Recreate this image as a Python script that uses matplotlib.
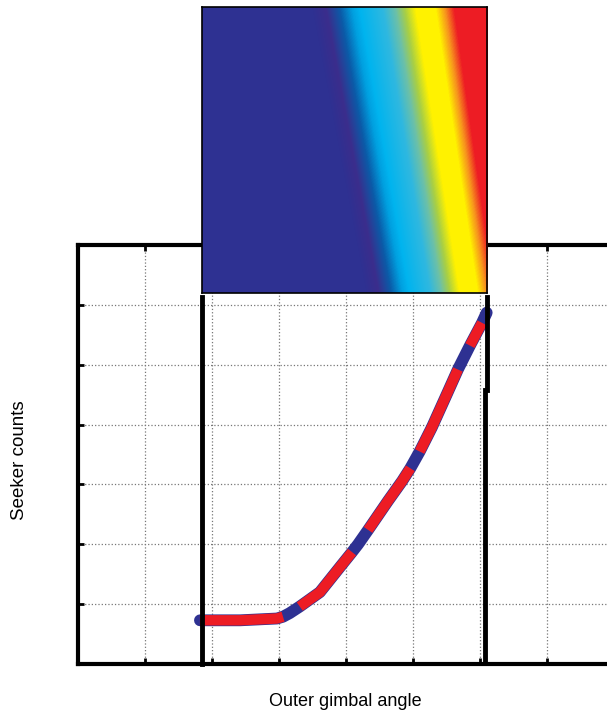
import numpy as np
import matplotlib
matplotlib.use("Agg")
import matplotlib.pyplot as plt
from matplotlib.colors import LinearSegmentedColormap

plt.rcParams['font.family'] = ['Liberation Sans', 'DejaVu Sans']

# curve (grid units)
angle = [1.82, 2.42, 2.97, 3.06, 3.16, 3.31, 3.61, 3.91, 4.09, 4.18, 4.33,
         4.63, 4.84, 4.96, 5.10, 5.28, 5.51, 5.67, 5.85, 6.03, 6.10]
counts = [0.73, 0.73, 0.76, 0.79, 0.85, 0.96, 1.20, 1.62, 1.87, 2.00, 2.24,
          2.73, 3.06, 3.27, 3.55, 3.95, 4.52, 4.92, 5.32, 5.70, 5.87]
# index ranges drawn in red over the blue trace
red_spans = [(0, 3), (5, 8), (10, 13), (14, 17), (18, 19)]

# limits of the scan window (vertical black lines)
win_left = 1.85
win_right_top = 6.10
win_right_bot = 6.07
win_top = 6.13
win_step = 4.57

# colour band edges of the inset map (pixel columns, top row / bottom row)
band_start = [0.0, 286.0]   # rows
band_lo = [103.0, 158.0]    # where the dark blue ends
band_hi = [258.0, 298.0]    # where full red is reached

cmap_stops = [0.0, 0.04, 0.13, 0.22, 0.30, 0.35, 0.50, 0.58, 0.64, 0.71, 0.84, 0.90, 0.96, 1.0]
cmap_cols = ['#2e3192', '#2e3192', '#3b2d8c', '#0b5ba8', '#00a0e0', '#00b4ef', '#2fb8e0',
             '#6cc0a8', '#a8cf45', '#fff200', '#fff200', '#f7941d', '#ed1c24', '#ed1c24']

fig = plt.figure(figsize=(6.07, 7.13), dpi=100)
ax = fig.add_axes([78/607, 49/713, 536/607, 419/713])
ax.set_xlim(0, 8)
ax.set_ylim(0, 7)
ax.set_xticks(range(0, 9))
ax.set_yticks(range(0, 8))
ax.set_xticklabels([])
ax.set_yticklabels([])
ax.tick_params(direction='in', length=4, width=2, top=True, right=True)
ax.grid(True, linestyle=':', color='#777777', linewidth=0.9)
for s in ax.spines.values():
    s.set_linewidth(3)

ax.plot(angle, counts, color='#2e3192', lw=8.5, solid_capstyle='round',
        solid_joinstyle='round', zorder=3)
for a, b in red_spans:
    ax.plot(angle[a:b + 1], counts[a:b + 1], color='#ed1c24', lw=7.5,
            solid_capstyle='butt', solid_joinstyle='round', zorder=4)

ax.plot([win_left, win_left], [0, win_top], color='black', lw=3.5, zorder=5, clip_on=False)
ax.plot([win_right_top, win_right_top], [win_top, win_step], color='black', lw=3.5, zorder=5)
ax.plot([win_right_bot, win_right_bot], [win_step, 0], color='black', lw=3.5, zorder=5)

# inset colour map
cmap = LinearSegmentedColormap.from_list('scan', list(zip(cmap_stops, cmap_cols)))
rows, cols = np.mgrid[0:286, 0:286]
lo = np.interp(rows, band_start, band_lo)
hi = np.interp(rows, band_start, band_hi)
field = np.clip((cols - lo) / (hi - lo), 0, 1)

ins = fig.add_axes([202/607, 420/713, 285/607, 286/713])
ins.imshow(field, cmap=cmap, vmin=0, vmax=1, aspect='auto', interpolation='bilinear')
ins.set_xticks([])
ins.set_yticks([])
for s in ins.spines.values():
    s.set_linewidth(1.2)

fig.text(345/607, 1 - 702/713, 'Outer gimbal angle', ha='center', va='center', fontsize=13)
fig.text(20/607, 1 - 460/713, 'Seeker counts', ha='center', va='center', rotation=90, fontsize=13.5)

fig.savefig('out.png', dpi=100)
